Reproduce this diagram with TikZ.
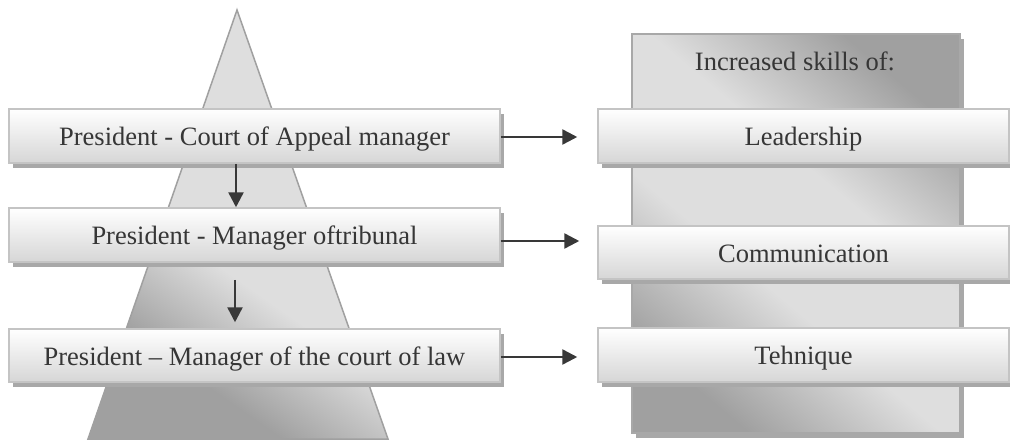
\documentclass[tikz,border=0pt]{standalone}
\usepackage{fontspec}
\setmainfont{Liberation Serif}
\usetikzlibrary{arrows.meta,shadows}
\definecolor{txt}{HTML}{363636}
\definecolor{arrc}{HTML}{383838}
\definecolor{boxline}{HTML}{C4C4C4}
\definecolor{boxbot}{HTML}{D6D6D6}
\definecolor{shadowc}{HTML}{A8A8A8}
\definecolor{sdark}{HTML}{A0A0A0}
\definecolor{slight}{HTML}{DEDEDE}
\definecolor{trline}{HTML}{A0A0A0}
\definecolor{rline}{HTML}{A8A8A8}
\pgfdeclarehorizontalshading{diagmirror}{100bp}{color(0bp)=(sdark); color(25bp)=(sdark); color(42bp)=(slight); color(58bp)=(slight); color(75bp)=(sdark); color(100bp)=(sdark)}
\pgfdeclarehorizontalshading{diagfade}{100bp}{color(0bp)=(sdark); color(30bp)=(sdark); color(44bp)=(slight); color(100bp)=(slight)}
\begin{document}
\begin{tikzpicture}[x=1pt,y=-1pt,
  lbl/.style={text=txt, font=\fontsize{26.5}{30}\selectfont},
  box/.style={lbl, draw=boxline, line width=1.5pt, top color=white, bottom color=boxbot, inner sep=0pt,
    text height=19pt, text depth=0pt,
    drop shadow={shadow xshift=3.5pt, shadow yshift=-4.5pt, fill=shadowc, opacity=1}},
  arr/.style={draw=arrc, line width=2.5pt, -{Triangle[length=15pt,width=15pt]}}]
\useasboundingbox (0,0) rectangle (1010,442);
\fill[white] (0,0) rectangle (1010,442);
% pyramid
\draw[draw=trline, line width=1.5pt, shading=diagfade, shading angle=55] (88,439) -- (237,10) -- (388,439) -- cycle;
% skills column
\node[draw=rline, line width=2pt, shading=diagmirror, shading angle=50, minimum width=328pt, minimum height=399pt, anchor=north west, inner sep=0pt,
  drop shadow={shadow xshift=3.5pt, shadow yshift=-4.5pt, fill=shadowc, opacity=1}] (skills) at (631,33) {};
\node[lbl] (head) at (795,61) {Increased skills of:};
% left boxes
\node[box, minimum width=491pt, minimum height=54pt] (l1) at (254.5,136) {President - Court of Appeal manager};
\node[box, minimum width=491pt, minimum height=54pt] (l2) at (254.5,235) {President - Manager oftribunal};
\node[box, minimum width=491pt, minimum height=53pt] (l3) at (254.5,355.5) {President -- Manager of the court of law};
% right boxes
\node[box, minimum width=411pt, minimum height=54pt] (r1) at (803.5,136) {Leadership};
\node[box, minimum width=411pt, minimum height=53pt] (r2) at (803.5,252.5) {Communication};
\node[box, minimum width=411pt, minimum height=54pt] (r3) at (803.5,355) {Tehnique};
% arrows
\draw[arr] ([xshift=-18.5pt]l1.south) -- ([xshift=-18.5pt]l2.north);
\draw[arr, shorten <=17pt, shorten >=6pt] ([xshift=-19.5pt]l2.south) -- ([xshift=-19.5pt]l3.north);
\draw[arr, shorten >=20pt] ([yshift=-1pt]l1.east) -- ([yshift=-1pt]l1.east -| r1.west);
\draw[arr, shorten >=18pt] ([yshift=-6pt]l2.east) -- ([yshift=-6pt]l2.east -| r2.west);
\draw[arr, shorten >=20pt] ([yshift=-1.5pt]l3.east) -- ([yshift=-1.5pt]l3.east -| r3.west);
\end{tikzpicture}
\end{document}
